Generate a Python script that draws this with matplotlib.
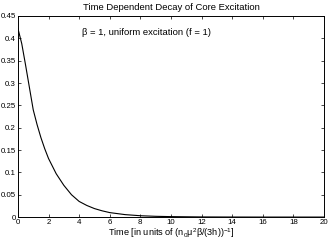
import numpy as np
import matplotlib
matplotlib.use('Agg')
import matplotlib.pyplot as plt
from matplotlib.ticker import FormatStrFormatter

# Values
time = [0, 0.25, 0.5, 0.75, 1, 1.25, 1.5, 1.75, 2, 2.5, 3, 3.5, 4, 4.5, 5, 5.5,
        6, 7, 8, 9, 10, 12, 14, 16, 18, 20]
excitation = [0.422, 0.388, 0.34, 0.29, 0.24, 0.207, 0.178, 0.153, 0.131, 0.097,
              0.071, 0.05, 0.035, 0.026, 0.019, 0.014, 0.01, 0.0055, 0.003,
              0.0017, 0.001, 0.0003, 0.0001, 0, 0, 0]
xticks = np.arange(0, 21, 2)
yticks = [0, 0.05, 0.1, 0.15, 0.2, 0.25, 0.3, 0.35, 0.4, 0.45]

plt.rcParams['font.family'] = ['Liberation Sans', 'DejaVu Sans']
plt.rcParams['mathtext.fontset'] = 'custom'
plt.rcParams['mathtext.rm'] = 'Liberation Sans'
plt.rcParams['mathtext.it'] = 'Liberation Sans'

fig = plt.figure(figsize=(3.32, 2.42), dpi=100)
ax = fig.add_axes([0.054, 0.103, 0.922, 0.831])

ax.plot(time, excitation, color='black', linewidth=0.8)

ax.set_xlim(0, 20)
ax.set_ylim(0, 0.45)
ax.set_xticks(xticks)
ax.set_yticks(yticks)
ax.yaxis.set_major_formatter(FormatStrFormatter('%g'))
ax.tick_params(direction='in', length=2.5, width=0.5, labelsize=5.7, pad=1.5,
               top=True, right=True)
for s in ax.spines.values():
    s.set_linewidth(0.7)

ax.set_title('Time Dependent Decay of Core Excitation', fontsize=6.8, pad=4)
ax.text(4.2, 0.412, '\u03b2 = 1, uniform excitation (f = 1)', fontsize=6.8,
        va='center', ha='left')
ax.set_xlabel('Time [in units of (n$_0$\u03bc$^2$\u03b2/(3h))$^{-1}$]', fontsize=6.6,
              labelpad=0)

fig.savefig('out.png', dpi=100)
